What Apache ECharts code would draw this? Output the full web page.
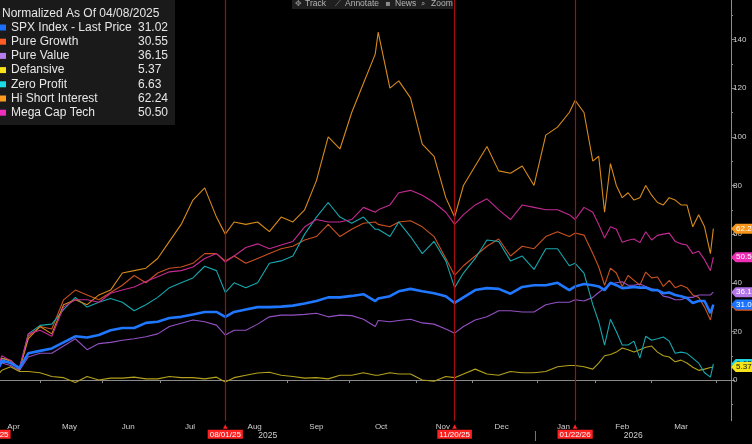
<!DOCTYPE html>
<html>
<head>
<meta charset="utf-8">
<title>Normalized As Of 04/08/2025</title>
<style>
  html, body {margin: 0; padding: 0; background: #000;}
  #chart {width: 752px; height: 444px;}
</style>
</head>
<body>
<div id="chart"></div>
<script src="https://cdn.jsdelivr.net/npm/echarts@6/dist/echarts.min.js"></script>
<script>
// market holidays inside the window (the axis runs on trading days)
var holidays = ['2025-04-18', '2025-05-26', '2025-06-19', '2025-07-04', '2025-09-01',
  '2025-11-27', '2025-12-25', '2026-01-01', '2026-01-19', '2026-02-16', '2026-04-03'];
var monthNames = ['Jan', 'Feb', 'Mar', 'Apr', 'May', 'Jun', 'Jul', 'Aug', 'Sep', 'Oct', 'Nov', 'Dec'];
var markerDates = ['2025-04-08', '2025-08-01', '2025-11-20', '2026-01-22'];

var sampleIdx = [0, 3, 6, 9, 12, 16, 20, 24, 28, 32,
  36, 40, 44, 48, 52, 56, 60, 64, 68, 72,
  76, 79, 82, 86, 90, 94, 98, 102, 106, 110,
  114, 118, 122, 126, 130, 131, 135, 138, 142, 146,
  150, 154, 157, 160, 164, 168, 172, 176, 180, 184,
  188, 192, 196, 198, 201, 204, 206, 208, 210, 212,
  214, 216, 218, 220, 222, 224, 226, 228, 230, 232,
  234, 236, 238, 240, 242, 244, 245];

var spx = [0, 8, 7, 5, 11, 12, 13, 15.5, 18, 17.5,
  18.5, 20.5, 21.4, 21.4, 23.5, 24, 25.5, 26, 27, 28,
  28, 26, 28, 29, 30, 30, 30.2, 30.6, 31.5, 32.5,
  34, 34, 34.6, 35.3, 32.5, 33.5, 34.5, 36.5, 37.5, 36.5,
  35.7, 34.5, 31.7, 34, 37, 37.8, 37.5, 35.5, 38.3, 39,
  39, 40, 37, 38.5, 39.5, 39, 38.5, 37, 40, 39,
  37.8, 38, 38.3, 38, 38, 37, 37, 35.7, 36, 35,
  34.5, 33.7, 31.7, 32.5, 32.5, 27.5, 31.02];
var pureGrowth = [0, 9, 8, 4, 18, 22, 21, 33, 37, 35,
  33, 36, 39, 43, 40, 44, 46, 46.5, 48, 52,
  52, 49, 51, 48, 50, 52, 54, 55, 57.6, 59,
  64, 59, 62, 64.5, 65, 64, 63, 65, 65.5, 63,
  59, 50, 43, 47, 51, 55, 58, 51, 55, 54,
  59, 61, 59, 60.5, 59.6, 52, 46.6, 39, 46, 44,
  38.5, 43, 41, 39, 44.4, 42, 42.4, 38.5, 41, 38,
  39, 38, 35, 34, 30, 24.7, 30.55];
var pureValue = [0, 7, 6, 4, 9.5, 11, 11, 14, 17, 12.5,
  15, 15.5, 16.4, 17, 17.8, 19, 22, 23.4, 24.7, 24,
  22.6, 18.5, 20.5, 20.5, 23, 26, 26.7, 26.7, 27, 27.5,
  26, 26.7, 26.5, 25, 22, 24.5, 24, 24.5, 25, 23.5,
  23, 21, 19.3, 22, 24.7, 26, 28.5, 28.5, 28, 28,
  31, 32, 32, 33, 32.5, 34, 36, 37.8, 39.5, 40,
  40.4, 39, 39, 39.5, 38.5, 37.5, 37, 34.5, 34, 33,
  33, 34, 34, 35, 35, 35, 36.15];
var defensive = [0, 4, 5.5, 3.5, 3.5, 3, 1.5, 1, -1, 1.5,
  0, 0.8, 0.8, 1.2, 0.5, 0.5, 1.5, 1, 1, 0.5,
  1.2, -0.8, 1, 2, 2.9, 3.2, 2, 1.5, 0.8, 1,
  0.5, 2, 2, 3, 2, 2, 3, 2.5, 2.5, 0,
  -0.5, 1.5, 1, 2.5, 4.5, 2.5, 2, 3.5, 3, 3,
  3.5, 5.5, 6, 6, 5.5, 4.5, 7, 10, 10.5, 11.5,
  13.2, 12.5, 11.5, 12.5, 13.5, 14, 11.5, 10, 9.5, 7.5,
  8.2, 7, 5.3, 4, 4.5, 5.2, 5.37];
var zeroProfit = [0, 9, 8, 4.5, 19, 22.5, 23, 29, 34, 30,
  32, 33.5, 32, 28.5, 31, 34, 38, 40, 42, 46.8,
  45, 36, 40, 38, 40, 48, 49, 51, 60, 67,
  73, 67, 64.5, 67, 62, 62, 59, 65, 59, 52,
  57, 49, 38, 44, 50, 57.6, 57, 49, 51, 45.5,
  54, 54, 47, 48, 44, 31, 24, 14.4, 25, 20,
  14.4, 14.4, 16, 9, 18, 16.4, 17, 17.7, 16, 11,
  11.5, 11, 9, 7, 3, 1.2, 6.63];
var hiShort = [0, 9, 8, 4.5, 17, 22, 19, 31, 33, 31,
  35, 37, 44, 45, 46, 50, 57, 64, 74, 79,
  67, 60, 65, 64, 65, 61, 67, 65, 70, 82,
  100, 95, 110, 122, 134, 143, 120, 123, 116, 97,
  92, 75, 67, 80, 88, 96, 86, 85, 88, 80,
  100.7, 104, 110, 115, 110, 90, 92, 69, 89, 80,
  75, 77, 74, 75, 80, 76, 73, 72, 75, 74,
  72, 72, 63, 68, 63, 52, 62.24];
var megaCap = [0, 10, 8, 5, 19, 20.5, 18, 30, 33, 33,
  32, 35.7, 37, 38.3, 40.5, 42.5, 44.5, 45, 46.5, 50,
  52, 48.5, 51, 54.5, 56, 54, 55.5, 57, 63, 66,
  65, 65, 66, 71, 69, 70, 72, 77, 78, 76,
  73, 69, 64, 68, 72, 74.5, 70, 66, 72, 71,
  70, 70, 68, 66, 71, 69, 64, 58.4, 63, 62,
  56.7, 57.5, 58, 56.5, 61, 57.6, 59.5, 60, 60.4, 57,
  56, 55.5, 52, 53, 49.5, 45, 50.5];

var names = ['SPX Index - Last Price', 'Pure Growth', 'Pure Value', 'Defansive',
  'Zero Profit', 'Hi Short Interest', 'Mega Cap Tech'];
var values = [spx, pureGrowth, pureValue, defensive, zeroProfit, hiShort, megaCap];
var lastText = ['31.02', '30.55', '36.15', '5.37', '6.63', '62.24', '50.50'];
var lineColors = ['#1f78ff', '#c9521f', '#9350c2', '#b3a11c', '#17a7ae', '#d88a1c', '#c42a92'];
var keyColors = ['#1a6fff', '#ff5c26', '#b77ded', '#f7e51a', '#1adbe6', '#ff9c1f', '#f02fbf'];
var tagColors = ['#1a72ff', '#e0561f', '#b577e8', '#f4e41c', '#22d3df', '#f7951d', '#ee2fb5'];
var tagText = ['#fff', '#fff', '#fff', '#111', '#111', '#fff', '#fff'];
var tagZ = [9, 5, 6, 8, 7, 6, 6];

function tradingDays(start, count) {
  var out = [];
  var d = new Date(start + 'T00:00:00Z');
  while (out.length < count) {
    var wd = d.getUTCDay();
    var s = d.toISOString().slice(0, 10);
    if (wd !== 0 && wd !== 6 && holidays.indexOf(s) < 0) out.push(s);
    d.setUTCDate(d.getUTCDate() + 1);
  }
  return out;
}
var days = tradingDays('2025-04-08', 252);

// month ticks at first trading day, month names in the middle of each month
var firsts = [];
days.forEach(function (d, i) {
  if (i === 0 || d.slice(0, 7) !== days[i - 1].slice(0, 7)) firsts.push(i);
});
var tickSet = {}, midSet = {};
firsts.forEach(function (f, k) {
  if (k > 0) tickSet[f] = true;
  if (k < firsts.length - 1) midSet[Math.floor((f + firsts[k + 1] - 1) / 2)] = true;
});

function mdy(s) {
  return s.slice(5, 7) + '/' + s.slice(8, 10) + '/' + s.slice(2, 4);
}

var font = 'Liberation Sans, Arial, sans-serif';
var lastDay = days[days.length - 1];

var series = names.map(function (name, i) {
  var s = {
    name: name,
    type: 'line',
    clip: false,
    showSymbol: false,
    symbol: 'none',
    z: i === 0 ? 4 : 2,
    color: lineColors[i],
    lineStyle: {width: i === 0 ? 2.6 : 1.1, color: lineColors[i]},
    data: sampleIdx.map(function (d, j) { return [days[d], values[i][j]]; }),
    markPoint: {
      silent: true,
      z: tagZ[i],
      symbol: 'path://M0,5L5,0L30,0L30,10L5,10Z',
      symbolKeepAspect: false,
      symbolSize: [28, 10],
      symbolOffset: [14, 0],
      itemStyle: {color: tagColors[i]},
      label: {
        show: true,
        position: ['18%', '50%'],
        align: 'left',
        verticalAlign: 'middle',
        color: tagText[i],
        fontSize: 8,
        fontFamily: font,
        formatter: lastText[i]
      },
      data: [{coord: [lastDay, values[i][values[i].length - 1]]}]
    }
  };
  if (i === 0) {
    s.markLine = {
      silent: true,
      symbol: ['none', 'none'],
      lineStyle: {color: '#a50e0e', width: 1.2, type: 'solid'},
      label: {
        show: true,
        position: 'start',
        distance: 3,
        formatter: '{t|▲}\n{d|{b}}',
        rich: {
          t: {color: '#ff2020', fontSize: 6, lineHeight: 6, fontFamily: 'DejaVu Sans', align: 'center'},
          d: {backgroundColor: '#ff2020', color: '#fff', fontSize: 8, lineHeight: 9,
              padding: [1, 2, 0, 2], fontFamily: font, align: 'center'}
        }
      },
      data: markerDates.map(function (d, k) {
        var item = {name: mdy(d), xAxis: d};
        if (k === 0) item.lineStyle = {color: 'rgba(0,0,0,0)'};
        return item;
      })
    };
  }
  return s;
});

var chart = echarts.init(document.getElementById('chart'));
chart.setOption({
  backgroundColor: '#000',
  animation: false,
  textStyle: {fontFamily: font},
  title: {
    text: 'Normalized As Of 04/08/2025',
    left: 2, top: 7.5, padding: 0,
    textStyle: {color: '#e6e6e6', fontSize: 12, fontWeight: 'normal', fontFamily: font}
  },
  legend: {
    orient: 'vertical',
    left: 0, top: 21.5, padding: 0,
    itemWidth: 6, itemHeight: 6, itemGap: 2.2,
    icon: 'rect',
    selectedMode: false,
    data: names.map(function (n, i) { return {name: n, itemStyle: {color: keyColors[i]}}; }),
    formatter: function (n) { return '{n|' + n + '}{v|' + lastText[names.indexOf(n)] + '}'; },
    textStyle: {
      color: '#e6e6e6', fontSize: 12, fontFamily: font,
      rich: {
        n: {width: 127, fontSize: 12, color: '#e6e6e6', fontFamily: font},
        v: {fontSize: 12, color: '#e6e6e6', fontFamily: font}
      }
    }
  },
  grid: {left: -7, right: 21, top: 0, bottom: 23.3, outerBoundsMode: 'none', containLabel: false},
  xAxis: {
    type: 'category',
    data: days,
    boundaryGap: false,
    axisLine: {lineStyle: {color: '#8a8a8a', width: 1}},
    axisTick: {
      interval: function (i) { return !!tickSet[i]; },
      length: 3,
      lineStyle: {color: '#8a8a8a'}
    },
    axisLabel: {
      interval: function (i) { return !!midSet[i]; },
      formatter: function (v) { return monthNames[+v.slice(5, 7) - 1]; },
      color: '#cfcfcf', fontSize: 8, margin: 2, fontFamily: font
    },
    splitLine: {show: false}
  },
  yAxis: [{
    type: 'value',
    position: 'right',
    min: -16.7, max: 156.25,
    axisLine: {show: true, lineStyle: {color: '#8a8a8a'}},
    axisTick: {show: true, length: 4, customValues: [0, 20, 40, 60, 80, 100, 120, 140],
      lineStyle: {color: '#8a8a8a'}},
    axisLabel: {customValues: [0, 20, 40, 60, 80, 100, 120, 140],
      color: '#cfcfcf', fontSize: 8, margin: 2, fontFamily: font},
    splitLine: {show: false}
  }, {
    type: 'value',
    position: 'right',
    min: -16.7, max: 156.25,
    axisLine: {show: false},
    axisTick: {show: true, length: 2, customValues: [-10, 10, 30, 50, 70, 90, 110, 130, 150],
      lineStyle: {color: '#8a8a8a'}},
    axisLabel: {show: false},
    splitLine: {show: false}
  }],
  series: series
});

// year captions centred on each year's visible span, toolbar and key box
var step = chart.convertToPixel({xAxisIndex: 0}, 1) - chart.convertToPixel({xAxisIndex: 0}, 0);
var janIdx = days.indexOf('2026-01-02');
var xJan = chart.convertToPixel({xAxisIndex: 0}, janIdx) - step / 2;
var xEnd = chart.convertToPixel({xAxisIndex: 0}, days.length - 1);
var yText = {fill: '#cfcfcf', fontSize: 8.5, fontFamily: font, textAlign: 'center', textVerticalAlign: 'middle'};
var tools = [['✥', 'Track', 295], ['⟋', 'Annotate', 335], ['▪', 'News', 385], ['⌕', 'Zoom', 421]];
var graphics = [
  {type: 'rect', z: 0, shape: {x: 0, y: 0, width: 175, height: 125}, style: {fill: '#1a1a1a'}},
  {type: 'rect', z: 10, shape: {x: 292, y: -2, width: 161, height: 11}, style: {fill: '#1f1f1f'}},
  {type: 'text', z: 10, x: xJan / 2, y: 436, style: Object.assign({text: '2025'}, yText)},
  {type: 'text', z: 10, x: (xJan + xEnd) / 2, y: 436, style: Object.assign({text: '2026'}, yText)},
  {type: 'line', z: 10, shape: {x1: xJan, y1: 431, x2: xJan, y2: 441}, style: {stroke: '#777', lineWidth: 1}}
];
tools.forEach(function (t) {
  graphics.push({type: 'text', z: 11, x: t[2], y: 4, style: {text: t[0], fill: '#8c8c8c', fontSize: 8,
    fontFamily: 'DejaVu Sans', textVerticalAlign: 'middle'}});
  graphics.push({type: 'text', z: 11, x: t[2] + 10, y: 4, style: {text: t[1], fill: '#b5b5b5', fontSize: 8.5,
    fontFamily: font, textVerticalAlign: 'middle'}});
});
chart.setOption({graphic: graphics});
</script>
</body>
</html>
